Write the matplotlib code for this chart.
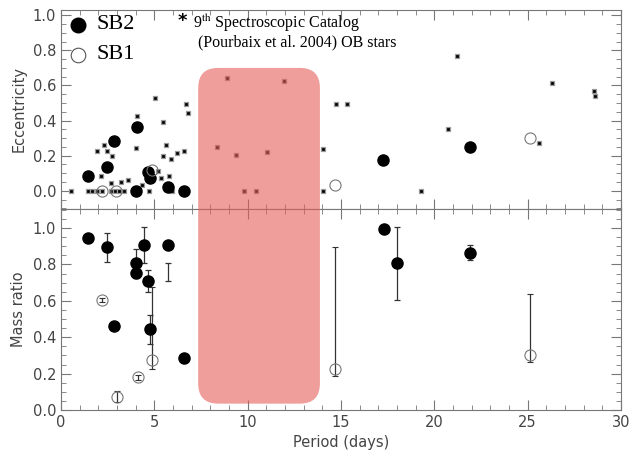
import numpy as np
import matplotlib
matplotlib.use("Agg")
import matplotlib.pyplot as plt
from matplotlib.patches import FancyBboxPatch
from matplotlib.transforms import IdentityTransform
from matplotlib.ticker import MultipleLocator, FormatStrFormatter

plt.rcParams['mathtext.fontset'] = 'stix'

# catalog OB stars (period, eccentricity)
cat_p = [0.54, 1.46, 1.68, 1.91, 2.18, 2.68, 2.89, 3.12, 3.39, 4.73, 5.96,
         5.02, 4.09, 6.68, 6.82, 5.48, 1.91, 2.30, 2.48, 2.75, 4.02, 5.63,
         5.48, 5.89, 6.20, 6.61, 2.12, 2.66, 3.20, 3.61, 4.36, 5.18, 5.36,
         5.79, 8.88, 11.93, 8.37, 9.36, 11.02, 9.82, 10.46, 14.75, 15.34,
         14.02, 14.02, 19.27, 21.23, 20.75, 26.32, 28.55, 28.62, 25.62]
cat_e = [0.0, 0.0, 0.0, 0.0, 0.0, 0.0, 0.0, 0.0, 0.0, 0.0, 0.0,
         0.53, 0.425, 0.497, 0.444, 0.39, 0.228, 0.26, 0.228, 0.197, 0.241, 0.26,
         0.197, 0.179, 0.213, 0.228, 0.085, 0.042, 0.051, 0.061, 0.032, 0.114, 0.074,
         0.085, 0.643, 0.624, 0.249, 0.201, 0.218, 0.0, 0.0, 0.497, 0.497,
         0.237, 0.0, 0.0, 0.767, 0.353, 0.613, 0.571, 0.539, 0.27]

# SB2 / SB1 eccentricities
sb2_p = [1.43, 2.45, 2.86, 4.05, 4.68, 4.77, 4.02, 5.75, 6.61, 17.27, 21.91]
sb2_e = [0.085, 0.137, 0.283, 0.364, 0.105, 0.07, 0.0, 0.023, 0.0, 0.175, 0.25]
sb1_p = [2.18, 2.95, 4.86, 14.68, 25.14]
sb1_e = [0.0, 0.0, 0.12, 0.032, 0.30]

# mass ratios
sb2_qp = [1.43, 2.45, 2.86, 4.02, 4.02, 4.46, 4.68, 4.75, 5.75, 6.61, 17.30, 18.0, 21.93]
sb2_q = [0.948, 0.895, 0.464, 0.807, 0.755, 0.908, 0.707, 0.444, 0.908, 0.285, 0.996, 0.807, 0.865]
sb2_qerr = [0.02, 0.08, 0.0, 0.08, 0.0, 0.1, 0.06, 0.08, 0.0, 0.0, 0.0, 0.2, 0.04]
extra_p = [5.75]
extra_q = [0.757]
extra_err = [0.05]
sb1_qp = [2.21, 3.0, 4.13, 4.86, 14.68, 25.14]
sb1_q = [0.606, 0.073, 0.18, 0.276, 0.223, 0.304]
sb1_lo = [0.01, 0.03, 0.015, 0.05, 0.037, 0.041]
sb1_hi = [0.01, 0.03, 0.015, 0.40, 0.672, 0.331]

fig = plt.figure(figsize=(6.32, 4.55), dpi=100)
ax1 = fig.add_axes([0.0965, 0.5407, 0.8861, 0.4373])
ax2 = fig.add_axes([0.0965, 0.0989, 0.8861, 0.4418], sharex=ax1)

axcol = '#777777'
for ax in (ax1, ax2):
    for s in ax.spines.values():
        s.set_color(axcol)
        s.set_linewidth(0.8)
    ax.tick_params(which='both', direction='in', top=True, right=True,
                   color=axcol, labelcolor='#444444', labelsize=10.5)
    ax.tick_params(which='major', length=7)
    ax.tick_params(which='minor', length=3.5)
    ax.xaxis.set_major_locator(MultipleLocator(5))
    ax.xaxis.set_minor_locator(MultipleLocator(1))
    ax.yaxis.set_major_locator(MultipleLocator(0.2))
    ax.yaxis.set_minor_locator(MultipleLocator(0.05))
    ax.yaxis.set_major_formatter(FormatStrFormatter('%.1f'))

ax1.set_xlim(0, 30)
ax1.set_ylim(-0.104, 1.03)
ax2.set_ylim(0, 1.105)
ax1.tick_params(labelbottom=False)

ax1.plot(cat_p, cat_e, 's', ms=3.4, mfc='k', mec='#999999', mew=0.9, zorder=3)
ax1.plot(sb2_p, sb2_e, 'o', ms=8, mfc='k', mec='k', zorder=4)
ax1.plot(sb1_p, sb1_e, 'o', ms=8, mfc='none', mec='#777777', mew=0.8, zorder=4)

ax2.errorbar(sb2_qp, sb2_q, yerr=sb2_qerr, fmt='o', ms=8, mfc='k', mec='k',
             ecolor='#333333', elinewidth=0.9, capsize=2.5, capthick=0.9, zorder=4)
ax2.errorbar(extra_p, extra_q, yerr=extra_err, fmt='none',
             ecolor='#333333', elinewidth=0.9, capsize=2.5, capthick=0.9)
ax2.errorbar(sb1_qp, sb1_q, yerr=[sb1_lo, sb1_hi], fmt='o', ms=8, mfc='none',
             mec='#777777', mew=0.8, ecolor='#333333', elinewidth=0.9,
             capsize=2.5, capthick=0.9, zorder=4)

ax1.set_ylabel('Eccentricity', color='#444444', fontsize=10.5)
ax2.set_ylabel('Mass ratio', color='#444444', fontsize=10.5)
ax2.set_xlabel('Period (days)', color='#444444', fontsize=10.5)
ax1.yaxis.set_label_coords(-0.062, 0.5)
ax2.yaxis.set_label_coords(-0.062, 0.5)

# legend drawn by hand
ax1.plot([0.03], [0.925], 'o', ms=10.5, mfc='k', mec='k', transform=ax1.transAxes)
ax1.plot([0.03], [0.775], 'o', ms=10.5, mfc='none', mec='#555555', mew=0.8,
         transform=ax1.transAxes)
ax1.text(0.064, 0.925, 'SB2', transform=ax1.transAxes, fontsize=16,
         family='Liberation Serif', va='center')
ax1.text(0.064, 0.775, 'SB1', transform=ax1.transAxes, fontsize=16,
         family='Liberation Serif', va='center')
ax1.text(0.208, 0.945, '*', transform=ax1.transAxes, fontsize=13,
         family='DejaVu Sans', fontweight='bold', va='center')
ax1.text(0.235, 0.935, r'9$^{\rm th}$ Spectroscopic Catalog', transform=ax1.transAxes,
         fontsize=11.5, family='Liberation Serif', va='center')
ax1.text(0.245, 0.835, '(Pourbaix et al. 2004) OB stars', transform=ax1.transAxes,
         fontsize=11.5, family='Liberation Serif', va='center')

# pink band spanning both panels
fig.canvas.draw()
x0, y1 = ax1.transData.transform((7.35, 0.70))
x1, y0 = ax2.transData.transform((13.87, 0.035))
band = FancyBboxPatch((x0, y0), x1 - x0, y1 - y0,
                      boxstyle='round,pad=0,rounding_size=20',
                      transform=IdentityTransform(), fc=(230/255, 93/255, 88/255),
                      ec='none', alpha=0.6, zorder=10)
fig.add_artist(band)

fig.savefig('out.png', dpi=100)
